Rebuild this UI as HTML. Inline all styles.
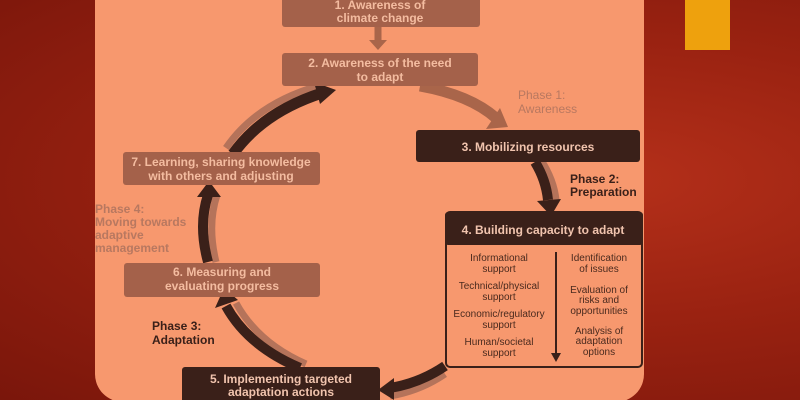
<!DOCTYPE html>
<html><head><style>
html,body{margin:0;padding:0}
body{width:800px;height:400px;overflow:hidden;background:radial-gradient(ellipse at 75% 45%,#b5301a 0%,#9a2211 45%,#7a160b 100%);position:relative;font-family:"Liberation Sans",sans-serif}
svg{position:absolute;left:0;top:0}
</style></head><body>
<svg width="800" height="400" viewBox="0 0 800 400" font-family="Liberation Sans, sans-serif" font-weight="bold">
<rect x="95" y="-30" width="549" height="432" rx="28" fill="#f7986e"/>
<rect x="685" y="0" width="45" height="50" fill="#eea10d"/>
<!-- shadow layers -->
<g fill="none" stroke="#b5735a" stroke-width="7">
<path d="M541 160 Q554 180 556 200"/>
<path d="M445 374 Q420 391 390 396"/>
<path d="M306 364 Q258 343 236 303"/>
<path d="M216 262 Q207 225 217 195"/>
<path d="M226 148 Q256 104 318 86"/>
</g>
<g fill="none" stroke-linecap="butt">
<path d="M420 86 Q470 95 496 118" stroke="#a9654a" stroke-width="11"/>
<path d="M535 162 Q546 180 548 200" stroke="#3a2019" stroke-width="10"/>
<path d="M445 366 Q420 383 390 388" stroke="#3a2019" stroke-width="10"/>
<path d="M300 368 Q248 346 226 306" stroke="#3a2019" stroke-width="10"/>
<path d="M208 262 Q198 225 208 195" stroke="#3a2019" stroke-width="10"/>
<path d="M233 154 Q263 112 322 93" stroke="#3a2019" stroke-width="11"/>
<path d="M378 27 L378 42" stroke="#a9654a" stroke-width="7"/>
</g>
<g>
<polygon points="486,129 508,127 500,108" fill="#a9654a"/>
<polygon points="537,201 561,199 551,216" fill="#3a2019"/>
<polygon points="394,378 394,400 378,390" fill="#3a2019"/>
<polygon points="215,308 238,300 224,288" fill="#3a2019"/>
<polygon points="197,197 221,197 209,181" fill="#3a2019"/>
<polygon points="314,82 320,104 336,90" fill="#3a2019"/>
<polygon points="369,40 387,40 378,50" fill="#a9654a"/>
</g>
<!-- boxes -->
<rect x="282" y="-5" width="198" height="32" rx="3" fill="#a4614a"/>
<rect x="282" y="53" width="196" height="33" rx="3" fill="#a4614a"/>
<rect x="416" y="130" width="224" height="32" rx="3" fill="#3a2019"/>
<rect x="446" y="212" width="196" height="155" rx="4" fill="none" stroke="#3a2019" stroke-width="2"/>
<rect x="445" y="212" width="198" height="33" rx="3" fill="#3a2019"/>
<rect x="182" y="367" width="198" height="40" rx="3" fill="#3a2019"/>
<rect x="124" y="263" width="196" height="34" rx="3" fill="#a4614a"/>
<rect x="123" y="152" width="197" height="33" rx="3" fill="#a4614a"/>
<line x1="556" y1="252" x2="556" y2="355" stroke="#3a2019" stroke-width="2"/>
<polygon points="551,353 561,353 556,362" fill="#3a2019"/>
<g font-size="12" fill="#f4bca0" text-anchor="middle">
<text x="380" y="9">1. Awareness of</text>
<text x="380" y="22">climate change</text>
<text x="380" y="67">2. Awareness of the need</text>
<text x="380" y="81">to adapt</text>
<text x="528" y="151" fill="#f1c4ae">3. Mobilizing resources</text>
<text x="543" y="234" fill="#f1c4ae">4. Building capacity to adapt</text>
<text x="281" y="383" fill="#f1c4ae">5. Implementing targeted</text>
<text x="281" y="396" fill="#f1c4ae">adaptation actions</text>
<text x="222" y="276">6. Measuring and</text>
<text x="222" y="290">evaluating progress</text>
<text x="221" y="166">7. Learning, sharing knowledge</text>
<text x="221" y="180">with others and adjusting</text>
</g>
<g font-size="10" font-weight="normal" fill="#4a2a1e" text-anchor="middle">
<text x="499" y="261">Informational</text><text x="499" y="272">support</text>
<text x="499" y="289">Technical/physical</text><text x="499" y="300">support</text>
<text x="499" y="317">Economic/regulatory</text><text x="499" y="328">support</text>
<text x="499" y="345">Human/societal</text><text x="499" y="356">support</text>
<text x="599" y="261">Identification</text><text x="599" y="272">of issues</text>
<text x="599" y="293">Evaluation of</text><text x="599" y="303">risks and</text><text x="599" y="314">opportunities</text>
<text x="599" y="334">Analysis of</text><text x="599" y="344">adaptation</text><text x="599" y="355">options</text>
</g>
<g font-size="12">
<text x="518" y="99" fill="#b87860" font-weight="normal">Phase 1:</text>
<text x="518" y="113" fill="#b87860" font-weight="normal">Awareness</text>
<text x="570" y="183" fill="#3a2019">Phase 2:</text>
<text x="570" y="196" fill="#3a2019">Preparation</text>
<text x="95" y="213" fill="#b87860">Phase 4:</text>
<text x="95" y="226" fill="#b87860">Moving towards</text>
<text x="95" y="239" fill="#b87860">adaptive</text>
<text x="95" y="252" fill="#b87860">management</text>
<text x="152" y="330" fill="#3a2019">Phase 3:</text>
<text x="152" y="344" fill="#3a2019">Adaptation</text>
</g>
</svg>
</body></html>
